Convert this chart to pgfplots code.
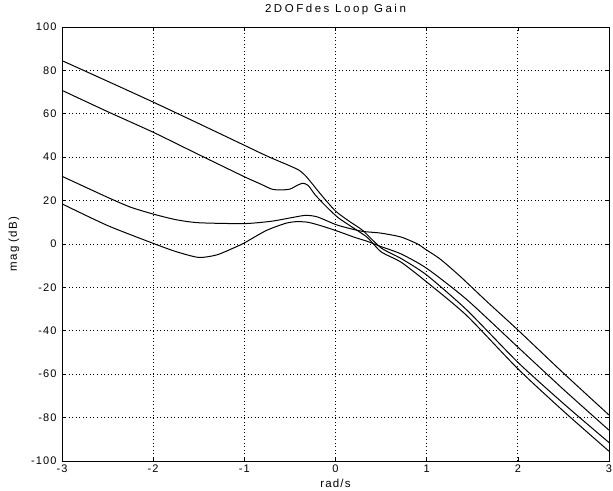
\documentclass[border=0pt]{standalone}
\usepackage{pgfplots}
\pgfplotsset{compat=1.18}
\usepackage{fontspec}
\setmainfont{Liberation Sans}
\newfontfamily\plotfont[LetterSpace=10]{Liberation Sans}
\newfontfamily\titlefont[LetterSpace=22]{Liberation Sans}

\begin{document}
\begin{tikzpicture}
\useasboundingbox (-62pt,-29pt) rectangle (551pt,461pt);
\begin{axis}[
    at={(0,0)}, anchor=south west,
    scale only axis,
    width=547pt, height=434pt,
    xmin=-3, xmax=3,
    ymin=-100, ymax=100,
    xtick={-3,-2,...,3},
    ytick={-100,-80,...,100},
    tick align=inside,
    major tick length=4pt,
    grid=major,
    major grid style={black, line width=0.8pt, dash pattern=on 0.9pt off 2.6pt},
    axis line style={black, line width=0.9pt},
    every tick/.style={black, line width=0.6pt},
    /pgf/number format/assume math mode=true,
    tick label style={font=\plotfont\fontsize{11}{12}\selectfont},
    yticklabel style={xshift=-2pt},
    title={2DOFdes Loop Gain},
    title style={font=\titlefont\fontsize{11.5}{13}\selectfont, at={(0.5,1)}, anchor=base, yshift=8pt},
    xlabel={rad/s},
    ylabel={mag (dB)},
    label style={font=\plotfont\fontsize{11.5}{13}\selectfont},
    xlabel style={at={(axis description cs:0.5,0)}, anchor=base, yshift=-26pt},
    ylabel style={at={(axis description cs:-0.0877,0.5)}, anchor=center},
    every axis plot post/.style={black, mark=none, line width=1pt, smooth, tension=0.4},
]
% curve starting at 84 dB
\addplot coordinates {
(-3,84.5) (-2.5,75) (-2,65.4) (-1.5,55.5) (-1,45.5) (-0.75,40.5) (-0.5,36)
(-0.4,34) (-0.33,31.5) (-0.25,27.5) (-0.15,22.3) (0,15.2) (0.15,10.5)
(0.3,6.2) (0.5,-1.8) (0.72,-6.7) (1.0,-14.3) (1.44,-30.4) (2.0,-54.5)
(2.5,-73.5) (3,-91.5)
};
% curve starting at 70 dB
\addplot coordinates {
(-3,70.8) (-2.5,61) (-2,51.5) (-1.5,41.2) (-1,31) (-0.83,27.8) (-0.7,25.3)
(-0.6,24.9) (-0.5,25.3) (-0.42,27) (-0.36,28) (-0.3,27) (-0.22,22.5)
(-0.1,17.2) (0.03,12.1) (0.2,7.3) (0.35,3) (0.5,-3.6) (0.72,-8.4)
(1.0,-17.5) (1.44,-33) (2,-57.5) (2.5,-77) (3,-95.5)
};
% curve starting at 31 dB
\addplot coordinates {
(-3,31.2) (-2.5,21.5) (-2.25,17) (-2,13.8) (-1.75,11.2) (-1.5,9.8) (-1,9.4)
(-0.7,10.5) (-0.5,12) (-0.33,13.2) (-0.2,12.5) (0,9) (0.15,7.2) (0.3,5.8)
(0.5,5) (0.72,3.2) (0.9,0) (1.0,-2.8) (1.15,-7) (1.37,-15) (1.66,-26.5)
(2,-39.6) (2.5,-59.5) (3,-78.8)
};
% curve starting at 18 dB
\addplot coordinates {
(-3,18.5) (-2.5,8.5) (-2,0.3) (-1.75,-3.5) (-1.5,-6.2) (-1.3,-5) (-1.1,-1.5)
(-1,0.5) (-0.76,6.2) (-0.55,9.5) (-0.43,10.3) (-0.3,10) (-0.15,8.3)
(0.03,5.8) (0.2,3.2) (0.35,1.2) (0.5,-1.2) (0.72,-4.6) (1.0,-11.2)
(1.44,-25.6) (2,-47.5) (2.5,-67) (3,-85.8)
};
\end{axis}
\end{tikzpicture}
\end{document}
